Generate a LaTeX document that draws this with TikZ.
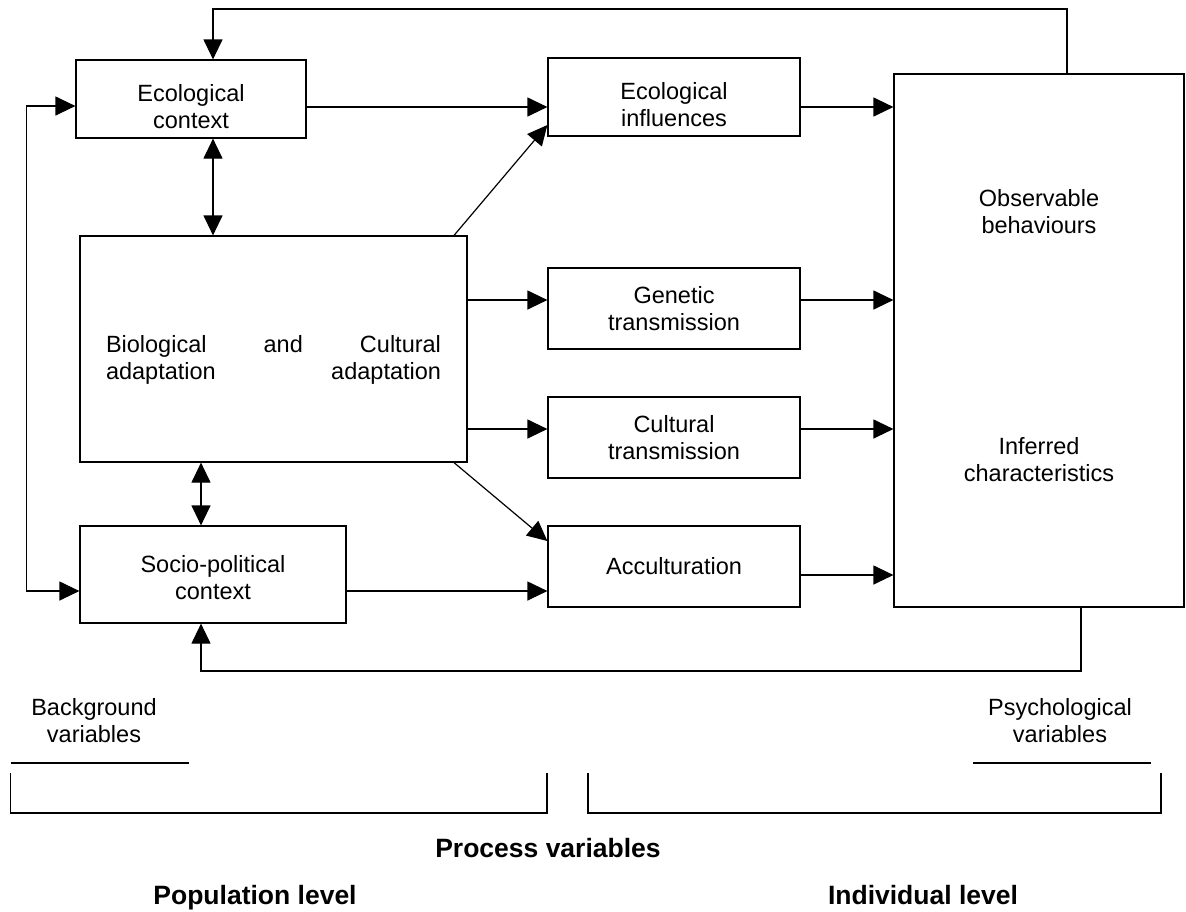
\documentclass[tikz,border=0pt]{standalone}
\usepackage{fontspec}
\setmainfont{Liberation Sans}
\usetikzlibrary{positioning,arrows.meta}

\newcommand{\topstrut}[1]{\rule{0pt}{#1}}

\begin{document}
\begin{tikzpicture}[
    x=0.5pt,
    y=-0.5pt,
    font=\fontsize{11.75}{13.5}\selectfont,
    box/.style={
        draw,
        line width=0.6pt,
        inner sep=0pt,
        align=center
    },
    colbox/.style={
        box,
        minimum width=126pt,
        minimum height=40.5pt
    },
    arrow/.style={
        -{Triangle[length=10pt,width=9.5pt]},
        line width=0.6pt
    },
    twoway/.style={
        {Triangle[length=10pt,width=9.5pt]}-{Triangle[length=10pt,width=9.5pt]},
        line width=0.6pt
    },
    heading/.style={
        anchor=base,
        font=\fontsize{13.25}{16}\selectfont\bfseries
    }
]

\useasboundingbox (0,0) rectangle (1186,911);

\node[box, minimum width=115pt, minimum height=39pt] (ecoctx) at (191,99)
{\topstrut{16pt}Ecological\\context};

\node[box, text width=167.5pt, minimum width=193.5pt, minimum height=113pt, align=left] (bio) at (273.5,349)
{\topstrut{19.5pt}Biological\hfill and\hfill Cultural\\adaptation\hfill adaptation};

\node[box, minimum width=133pt, minimum height=48.5pt] (socio) at (213,574.5)
{\topstrut{12pt}Socio-political\\context};

\node[colbox, minimum height=39pt] (ecoinf) at (674,97)
{\topstrut{16pt}Ecological\\influences};

\node[colbox] (genetic) at (674,308.5)
{Genetic\\transmission};

\node[colbox] (cultural) at (674,437.5)
{Cultural\\transmission};

\node[colbox] (accult) at (674,566.5)
{Acculturation};

\node[box, minimum width=145pt, minimum height=266.5pt] (obs) at (1039,340.5) {};
\node[align=center] (observable) at (1039,212) {Observable\\behaviours};
\node[align=center] (inferred) at (1039,460) {Inferred\\characteristics};

\coordinate (topright) at (1067,9);
\coordinate (topleft) at (213,9);
\coordinate (botright) at (1081,671);
\coordinate (botleft) at (201,671);
\coordinate (diagx) at (454,0);
\coordinate (ctxout) at ([yshift=-4pt]ecoctx.east);
\coordinate (infout) at ([yshift=-5pt]ecoinf.east);
\coordinate (genin) at ([yshift=4.25pt]genetic.west);
\coordinate (culin) at ([yshift=4.25pt]cultural.west);
\coordinate (accout) at ([yshift=-4.25pt]accult.east);
\coordinate (sociout) at ([yshift=-8.25pt]socio.east);

\draw[arrow] (obs.north -| topright) -- (topright) -- (topleft) -- (ecoctx.north -| topleft);
\draw[arrow] (obs.south -| botright) -- (botright) -- (botleft) -- (socio.south -| botleft);
\draw[twoway] ([yshift=-3.5pt]ecoctx.west) -- ++(-24.5pt,0) |- ([yshift=-8.25pt]socio.west);

\draw[twoway] (ecoctx.south -| topleft) -- (bio.north -| topleft);
\draw[twoway] (bio.south -| botleft) -- (socio.north -| botleft);

\draw[arrow] (ctxout) -- (ctxout -| ecoinf.west);
\draw[arrow] (bio.north -| diagx) -- ([yshift=-14pt]ecoinf.west);
\draw[arrow] (genin -| bio.east) -- (genin);
\draw[arrow] (culin -| bio.east) -- (culin);
\draw[arrow] (bio.south -| diagx) -- ([yshift=12.75pt]accult.west);
\draw[arrow] (sociout) -- (sociout -| accult.west);

\draw[arrow] (infout) -- (infout -| obs.west);
\draw[arrow] (genin -| genetic.east) -- (genin -| obs.west);
\draw[arrow] (culin -| cultural.east) -- (culin -| obs.west);
\draw[arrow] (accout) -- (accout -| obs.west);

\node[align=center] (background) at (94,721) {Background\\variables};
\node[align=center] (psychological) at (1060,721) {Psychological\\variables};
\draw[line width=1pt] (10.6,763) -- (189,763);
\draw[line width=1pt] (973,763) -- (1151,763);

\draw[line width=0.6pt] (10.6,773) -- (10.6,813) -- (547,813) -- (547,773);
\draw[line width=0.6pt] (588,773) -- (588,813) -- (1161,813) -- (1161,773);

\node[heading] (process) at (548,857) {Process variables};
\node[heading] (population) at (255,904) {Population level};
\node[heading] (individual) at (923,904) {Individual level};

\end{tikzpicture}
\end{document}
